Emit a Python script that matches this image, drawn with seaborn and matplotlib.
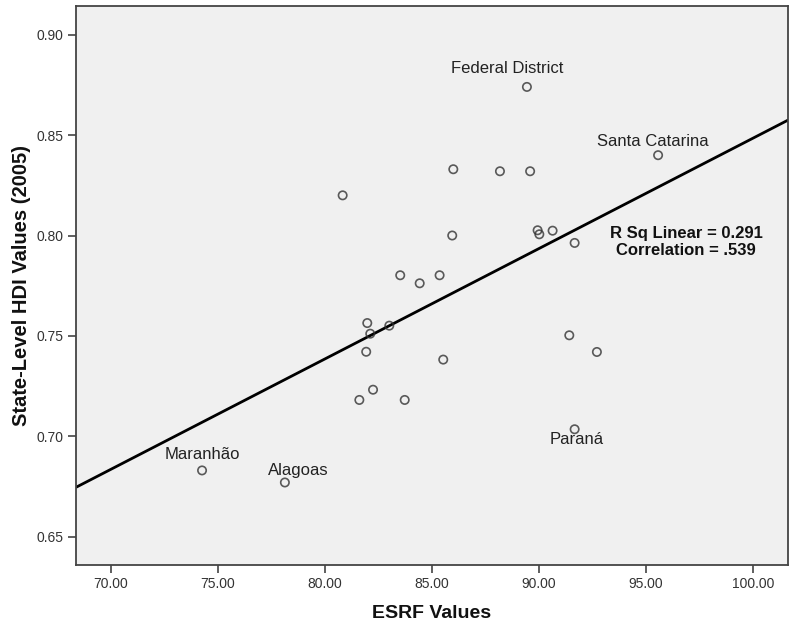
import numpy as np
import pandas as pd
import seaborn as sns
import matplotlib
matplotlib.use("Agg")
import matplotlib.pyplot as plt
from matplotlib.ticker import FormatStrFormatter

# ---- data ----
esrf = [89.45, 95.58, 86.01, 88.19, 89.60, 80.84, 85.96, 89.95, 90.03, 90.65,
        91.68, 83.53, 85.37, 84.44, 81.99, 83.02, 82.13, 81.94, 85.54, 91.43,
        92.72, 82.26, 81.62, 83.74, 91.68, 74.27, 78.14]
hdi = [0.874, 0.840, 0.833, 0.832, 0.832, 0.820, 0.800, 0.8026, 0.8006, 0.8024,
       0.7963, 0.7802, 0.7802, 0.7762, 0.7564, 0.7551, 0.7511, 0.7421, 0.7382, 0.7503,
       0.742, 0.7232, 0.7181, 0.7181, 0.7035, 0.683, 0.677]
state = ["Federal District", "Santa Catarina", "", "", "", "", "", "", "", "",
         "", "", "", "", "", "", "", "", "", "",
         "", "", "", "", "Paraná", "Maranhão", "Alagoas"]
x_ticks = [70, 75, 80, 85, 90, 95, 100]
y_ticks = [0.65, 0.70, 0.75, 0.80, 0.85, 0.90]
stats_text = "R Sq Linear = 0.291\nCorrelation = .539"

df = pd.DataFrame({"ESRF": esrf, "HDI": hdi, "State": state})

sns.set_theme(style="ticks", rc={
    "axes.facecolor": "#F0F0F0",
    "axes.edgecolor": "#444444",
    "axes.linewidth": 1.3,
    "xtick.color": "#444444",
    "ytick.color": "#444444",
    "xtick.labelcolor": "#333333",
    "ytick.labelcolor": "#333333",
})
plt.rcParams["font.family"] = ["Liberation Sans", "DejaVu Sans"]

fig = plt.figure(figsize=(7.91, 6.28), dpi=100)
ax = fig.add_axes([76 / 791, 1 - 565 / 628, (788 - 76) / 791, (565 - 6) / 628])

ax.set_xlim(68.38, 101.65)
ax.set_ylim(0.6359, 0.9143)

sns.regplot(data=df, x="ESRF", y="HDI", ax=ax, ci=None, truncate=False,
            scatter_kws=dict(s=36, facecolors="none", edgecolors="#333333",
                             linewidths=1.2, zorder=3),
            line_kws=dict(color="black", lw=2.0, zorder=2))

ax.set_xlim(68.38, 101.65)
ax.set_ylim(0.6359, 0.9143)

offsets = {
    "Federal District": (-14, 13.5),
    "Santa Catarina": (-4, 9.6),
    "Maranhão": (0, 11.5),
    "Alagoas": (9.4, 8.6),
    "Paraná": (1.4, -7.2),
}
for xv, yv, name in zip(df["ESRF"], df["HDI"], df["State"]):
    if name:
        ax.annotate(name, (xv, yv), xytext=offsets[name], textcoords="offset points",
                    ha="center", va="center", fontsize=12, color="#222222", zorder=4)

ax.text(686 / 791, 1 - 242 / 628, stats_text, transform=fig.transFigure,
        ha="center", va="center", fontsize=12, fontweight="bold",
        linespacing=1.1, color="#111111")

ax.set_xticks(x_ticks)
ax.set_yticks(y_ticks)
ax.xaxis.set_major_formatter(FormatStrFormatter("%.2f"))
ax.yaxis.set_major_formatter(FormatStrFormatter("%.2f"))
ax.tick_params(axis="both", direction="out", length=6, width=1.2, labelsize=10, pad=3)

ax.set_xlabel("ESRF Values", fontsize=14, fontweight="bold", labelpad=10, color="#111111")
ax.set_ylabel("State-Level HDI Values (2005)", fontsize=14.5, fontweight="bold",
              labelpad=4, color="#111111")

for sp in ax.spines.values():
    sp.set_visible(True)

fig.savefig("out.png", dpi=100)
